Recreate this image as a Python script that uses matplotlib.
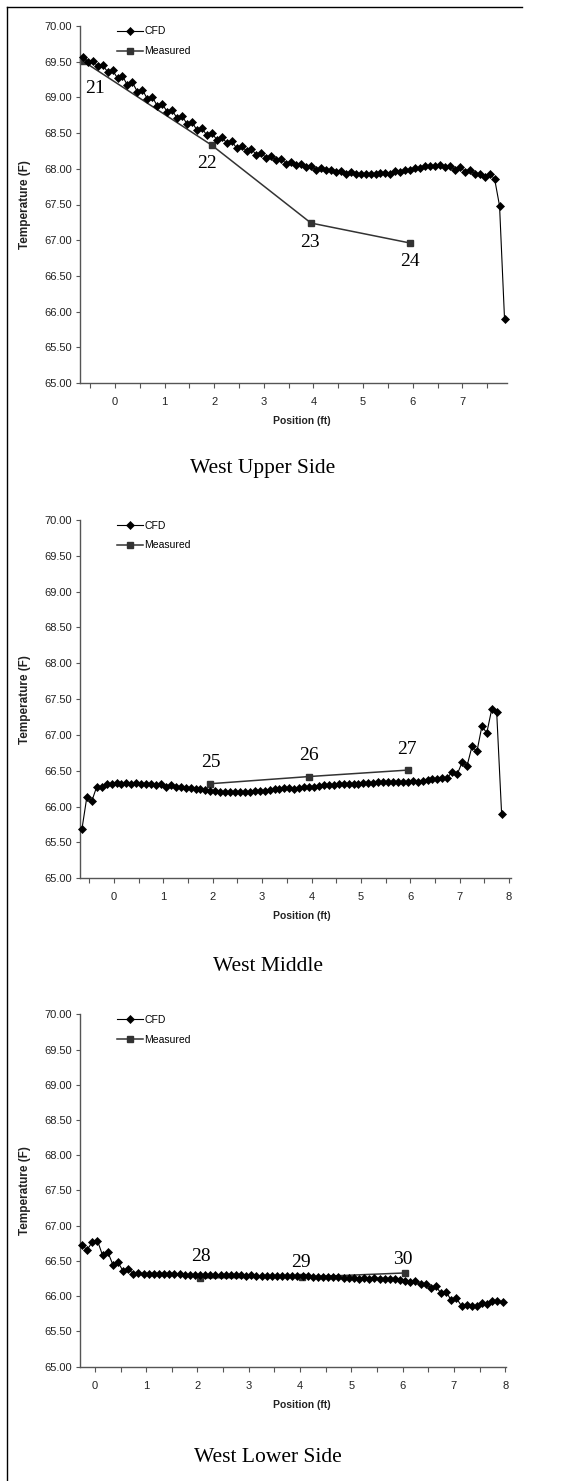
import numpy as np
import matplotlib
matplotlib.use("Agg")
from matplotlib import pyplot as plt
from matplotlib.ticker import FixedLocator, FixedFormatter

plt.rcParams['font.family'] = ['Liberation Sans', 'DejaVu Sans']

# CFD sample positions (ft)
pos_a = [-0.65, -0.55, -0.45, -0.35, -0.25, -0.15, -0.05, 0.05, 0.15, 0.25,
         0.35, 0.45, 0.55, 0.65, 0.75, 0.85, 0.95, 1.05, 1.15, 1.25,
         1.35, 1.45, 1.55, 1.65, 1.75, 1.85, 1.95, 2.05, 2.15, 2.25,
         2.35, 2.45, 2.55, 2.65, 2.75, 2.85, 2.95, 3.05, 3.15, 3.25,
         3.35, 3.45, 3.55, 3.65, 3.75, 3.85, 3.95, 4.05, 4.15, 4.25,
         4.35, 4.45, 4.55, 4.65, 4.75, 4.85, 4.95, 5.05, 5.15, 5.25,
         5.35, 5.45, 5.55, 5.65, 5.75, 5.85, 5.95, 6.05, 6.15, 6.25,
         6.35, 6.45, 6.55, 6.65, 6.75, 6.85, 6.95, 7.05, 7.15, 7.25,
         7.35, 7.45, 7.55, 7.65, 7.75, 7.85]
pos_b = [-0.25, -0.15, -0.05, 0.05, 0.15, 0.25, 0.35, 0.45, 0.55, 0.65,
         0.75, 0.85, 0.95, 1.05, 1.15, 1.25, 1.35, 1.45, 1.55, 1.65,
         1.75, 1.85, 1.95, 2.05, 2.15, 2.25, 2.35, 2.45, 2.55, 2.65,
         2.75, 2.85, 2.95, 3.05, 3.15, 3.25, 3.35, 3.45, 3.55, 3.65,
         3.75, 3.85, 3.95, 4.05, 4.15, 4.25, 4.35, 4.45, 4.55, 4.65,
         4.75, 4.85, 4.95, 5.05, 5.15, 5.25, 5.35, 5.45, 5.55, 5.65,
         5.75, 5.85, 5.95, 6.05, 6.15, 6.25, 6.35, 6.45, 6.55, 6.65,
         6.75, 6.85, 6.95, 7.05, 7.15, 7.25, 7.35, 7.45, 7.55, 7.65,
         7.75, 7.85, 7.95]

cfd_upper = [69.56, 69.50, 69.51, 69.44, 69.45, 69.36, 69.38, 69.27, 69.30, 69.17,
             69.21, 69.08, 69.11, 68.98, 69.01, 68.88, 68.91, 68.80, 68.82, 68.71,
             68.74, 68.63, 68.66, 68.54, 68.57, 68.47, 68.50, 68.41, 68.45, 68.36,
             68.39, 68.29, 68.32, 68.25, 68.28, 68.19, 68.22, 68.15, 68.18, 68.12,
             68.14, 68.07, 68.10, 68.05, 68.07, 68.02, 68.04, 67.99, 68.01, 67.98,
             67.98, 67.95, 67.97, 67.93, 67.95, 67.93, 67.93, 67.93, 67.93, 67.93,
             67.94, 67.94, 67.93, 67.97, 67.95, 67.98, 67.98, 68.01, 68.01, 68.04,
             68.04, 68.04, 68.05, 68.03, 68.04, 67.99, 68.03, 67.96, 67.98, 67.93,
             67.93, 67.89, 67.93, 67.86, 67.48, 65.90]
cfd_middle = [65.69, 66.14, 66.08, 66.28, 66.27, 66.31, 66.32, 66.33, 66.32, 66.33,
              66.32, 66.33, 66.32, 66.32, 66.31, 66.30, 66.31, 66.28, 66.30, 66.27,
              66.27, 66.26, 66.26, 66.24, 66.24, 66.23, 66.22, 66.22, 66.21, 66.21,
              66.20, 66.20, 66.20, 66.21, 66.21, 66.22, 66.22, 66.22, 66.23, 66.24,
              66.25, 66.26, 66.26, 66.25, 66.26, 66.27, 66.28, 66.28, 66.29, 66.30,
              66.30, 66.30, 66.31, 66.31, 66.32, 66.32, 66.32, 66.33, 66.33, 66.33,
              66.34, 66.34, 66.34, 66.35, 66.35, 66.35, 66.35, 66.36, 66.35, 66.36,
              66.37, 66.38, 66.38, 66.40, 66.40, 66.49, 66.45, 66.62, 66.57, 66.84,
              66.77, 67.12, 67.03, 67.36, 67.32, 65.90]
cfd_lower = [66.72, 66.66, 66.77, 66.79, 66.58, 66.63, 66.45, 66.48, 66.36, 66.38,
             66.32, 66.33, 66.31, 66.31, 66.31, 66.31, 66.31, 66.31, 66.31, 66.31,
             66.30, 66.30, 66.30, 66.30, 66.30, 66.30, 66.30, 66.30, 66.30, 66.30,
             66.30, 66.30, 66.29, 66.30, 66.29, 66.29, 66.29, 66.29, 66.29, 66.29,
             66.29, 66.28, 66.28, 66.28, 66.28, 66.27, 66.27, 66.27, 66.27, 66.27,
             66.27, 66.26, 66.26, 66.26, 66.25, 66.26, 66.25, 66.26, 66.25, 66.24,
             66.24, 66.24, 66.23, 66.22, 66.20, 66.21, 66.17, 66.18, 66.12, 66.14,
             66.04, 66.06, 65.94, 65.97, 65.86, 65.87, 65.86, 65.86, 65.90, 65.89,
             65.93, 65.93, 65.92]

meas_pos_upper = [-0.65, 1.95, 3.95, 5.95]
meas_upper = [69.51, 68.33, 67.24, 66.96]
meas_pos_middle = [1.95, 3.95, 5.95]
meas_middle = [66.32, 66.42, 66.51]
meas_pos_lower = [2.05, 4.03, 6.04]
meas_lower = [66.26, 66.27, 66.33]

sensor_upper = ['21', '22', '23', '24']
sensor_middle = ['25', '26', '27']
sensor_lower = ['28', '29', '30']
# where the sensor numbers sit (data coords)
lab_xy_upper = [(-0.40, 69.13), (1.86, 68.08), (3.93, 66.97), (5.95, 66.70)]
lab_xy_middle = [(1.96, 66.61), (3.94, 66.71), (5.93, 66.80)]
lab_xy_lower = [(2.07, 66.57), (4.02, 66.48), (6.00, 66.52)]

titles = ['West Upper Side', 'West Middle', 'West Lower Side']
ytick_vals = [65.0, 65.5, 66.0, 66.5, 67.0, 67.5, 68.0, 68.5, 69.0, 69.5, 70.0]

W, H = 575, 1481
fig = plt.figure(figsize=(W / 100, H / 100), dpi=100)

# axes boxes in pixels: left, top, right, bottom
boxes = [(80, 26, 507, 383), (80, 520, 510.5, 878.3), (80, 1014.3, 505.7, 1366.7)]
xlims = [(-0.706, 7.9), (-0.69, 8.03), (-0.29, 8.01)]
panels = [
    (pos_a, cfd_upper, meas_pos_upper, meas_upper, sensor_upper, lab_xy_upper),
    (pos_a, cfd_middle, meas_pos_middle, meas_middle, sensor_middle, lab_xy_middle),
    (pos_b, cfd_lower, meas_pos_lower, meas_lower, sensor_lower, lab_xy_lower),
]
title_xy = [(262.7, 468), (268, 967), (267.5, 1457)]

axis_col = '#555555'
text_col = '#222222'
serif = ['Liberation Serif', 'DejaVu Serif']

for k in range(3):
    l, t, r, b = boxes[k]
    w, h = r - l, b - t
    ax = fig.add_axes([l / W, 1 - b / H, w / W, h / H])
    px, cy, mx, my, names, labxy = panels[k]

    ax.plot(px, cy, color='black', lw=0.8, marker='D', ms=3.7, mew=0.5,
            mfc='black', mec='black', label='CFD', clip_on=False, zorder=3)
    ax.plot(mx, my, color='#333333', lw=1.1, marker='s', ms=4.2,
            mfc='#333333', mec='#333333', label='Measured', clip_on=False, zorder=2)

    for name, (lx, ly) in zip(names, labxy):
        ax.text(lx, ly, name, ha='center', va='center', fontsize=14,
                family=serif, color='black')

    ax.set_xlim(*xlims[k])
    ax.set_ylim(65, 70)
    ax.set_yticks(ytick_vals)
    ax.set_yticklabels(['%.2f' % v for v in ytick_vals])

    lo, hi = xlims[k]
    major = [v for v in range(0, 9) if lo <= v <= hi + 0.01]
    minor = [v + 0.5 for v in range(-1, 8) if lo <= v + 0.5 <= hi]
    ax.xaxis.set_major_locator(FixedLocator(major))
    ax.xaxis.set_major_formatter(FixedFormatter([str(v) for v in major]))
    ax.xaxis.set_minor_locator(FixedLocator(minor))

    for s in ['top', 'right']:
        ax.spines[s].set_visible(False)
    for s in ['left', 'bottom']:
        ax.spines[s].set_color(axis_col)
        ax.spines[s].set_linewidth(1.0)

    ax.tick_params(axis='y', which='both', direction='out', length=3, width=0.8,
                   color=axis_col, labelsize=8, labelcolor=text_col, pad=2.5)
    ax.tick_params(axis='x', which='both', direction='out', length=3.5, width=0.8,
                   color=axis_col, labelsize=8, labelcolor=text_col, pad=6.5)

    ax.set_xlabel('Position (ft)', fontsize=7.5, fontweight='bold', color=text_col)
    ax.xaxis.set_label_coords((302 - l) / w, -33.0 / h)
    ax.set_ylabel('Temperature (F)', fontsize=8.5, fontweight='bold', color=text_col)
    ax.yaxis.set_label_coords((31 - l) / w, 0.5)

    ax.legend(loc='upper left', bbox_to_anchor=((117 - l) / w, 1 - 0.5 / h),
              frameon=False, fontsize=7.5, handlelength=2.5, handletextpad=0.15,
              labelspacing=0.95, borderpad=0, borderaxespad=0)

    tx, ty = title_xy[k]
    fig.text(tx / W, 1 - ty / H, titles[k], ha='center', va='center', fontsize=15.5,
             family=serif, color='black')

# outer frame (left and top edge)
fig.add_artist(plt.Line2D([7.3 / W, 7.3 / W], [0, 1 - 6.7 / H], color='black', lw=1.0))
fig.add_artist(plt.Line2D([7.3 / W, 522 / W], [1 - 6.7 / H, 1 - 6.7 / H], color='black', lw=1.0))

fig.savefig('out.png', dpi=100)
